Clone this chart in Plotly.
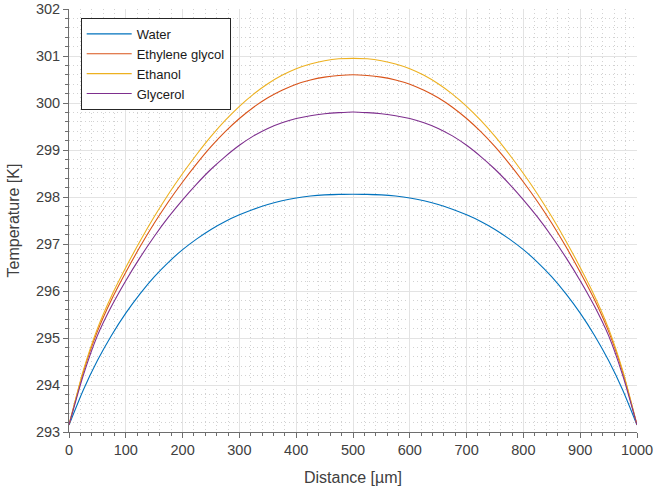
import plotly.graph_objects as go

distance = [0, 25, 50, 75, 100, 125, 150, 175, 200, 225, 250, 275, 300, 325, 350, 375, 400,
            425, 450, 475, 500, 525, 550, 575, 600, 625, 650, 675, 700, 725, 750, 775, 800,
            825, 850, 875, 900, 925, 950, 975, 1000]

water = [293.15, 293.89, 294.52, 295.06, 295.53, 295.94, 296.30, 296.61, 296.88, 297.11, 297.31,
         297.48, 297.62, 297.74, 297.84, 297.92, 297.98, 298.02, 298.045, 298.055, 298.06,
         298.055, 298.045, 298.02, 297.98, 297.92, 297.84, 297.74, 297.62, 297.48, 297.31,
         297.11, 296.88, 296.61, 296.30, 295.94, 295.53, 295.06, 294.52, 293.89, 293.15]

ethylene_glycol = [293.15, 294.27, 295.14, 295.82, 296.40, 296.94, 297.44, 297.90, 298.32, 298.71,
                   299.07, 299.39, 299.67, 299.91, 300.11, 300.27, 300.40, 300.49, 300.55, 300.585,
                   300.60,
                   300.585, 300.55, 300.49, 300.40, 300.27, 300.11, 299.91, 299.67, 299.39, 299.07,
                   298.71, 298.32, 297.90, 297.44, 296.94, 296.40, 295.82, 295.14, 294.27, 293.15]

ethanol = [293.15, 294.30, 295.20, 295.90, 296.50, 297.06, 297.58, 298.06, 298.50, 298.91,
           299.29, 299.63, 299.93, 300.19, 300.41, 300.59, 300.73, 300.83, 300.90, 300.94,
           300.95,
           300.94, 300.90, 300.83, 300.73, 300.59, 300.41, 300.19, 299.93, 299.63, 299.29,
           298.91, 298.50, 298.06, 297.58, 297.06, 296.50, 295.90, 295.20, 294.30, 293.15]

glycerol = [293.15, 294.20, 295.05, 295.68, 296.22, 296.71, 297.16, 297.57, 297.94, 298.28,
            298.59, 298.86, 299.10, 299.30, 299.46, 299.58, 299.67, 299.73, 299.77, 299.795,
            299.81,
            299.795, 299.77, 299.73, 299.67, 299.58, 299.46, 299.30, 299.10, 298.86, 298.59,
            298.28, 297.94, 297.57, 297.16, 296.71, 296.22, 295.68, 295.05, 294.20, 293.15]

series = [
    ("Water", water, "#0072BD"),
    ("Ethylene glycol", ethylene_glycol, "#D95319"),
    ("Ethanol", ethanol, "#EDB120"),
    ("Glycerol", glycerol, "#7E2F8E"),
]

FONT = "Liberation Sans, Arial, Helvetica, sans-serif"
TXT = "#404040"
AX = "#6e6e6e"

fig = go.Figure()
for name, vals, col in series:
    fig.add_trace(go.Scatter(x=distance, y=vals, name=name, mode="lines",
                             line=dict(color=col, width=1.1, shape="spline", smoothing=0.6)))

axis_common = dict(
    showline=True, linecolor=AX, linewidth=1, mirror=False,
    ticks="outside", ticklen=5, tickcolor=AX, tickwidth=1,
    showgrid=True, gridcolor="#e3e3e3", gridwidth=1,
    zeroline=False, automargin=False,
    tickfont=dict(family=FONT, size=14.5, color=TXT),
)

fig.update_xaxes(
    range=[0, 1000], tick0=0, dtick=100,
    title=dict(text="Distance [µm]", font=dict(family=FONT, size=16, color=TXT), standoff=14),
    minor=dict(dtick=20, ticks="outside", ticklen=3, tickcolor=AX,
               showgrid=True, gridcolor="#d2d2d2", griddash="1px,3px", gridwidth=1),
    **axis_common,
)
fig.update_yaxes(
    range=[293, 302], tick0=293, dtick=1,
    title=dict(text="Temperature [K]", font=dict(family=FONT, size=16, color=TXT), standoff=12),
    minor=dict(dtick=0.2, ticks="outside", ticklen=3, tickcolor=AX,
               showgrid=True, gridcolor="#d2d2d2", griddash="1px,3px", gridwidth=1),
    **axis_common,
)

fig.update_layout(
    width=654, height=491,
    margin=dict(l=69, r=17, t=9, b=59),
    paper_bgcolor="white", plot_bgcolor="white",
    font=dict(family=FONT, color=TXT),
    showlegend=True,
    legend=dict(
        x=0.0206, y=0.979, xanchor="left", yanchor="top",
        bgcolor="white", bordercolor="#262626", borderwidth=1,
        font=dict(family=FONT, size=13, color="#1a1a1a"),
        tracegroupgap=0, itemwidth=45,
    ),
)

fig.write_html("out.html")
